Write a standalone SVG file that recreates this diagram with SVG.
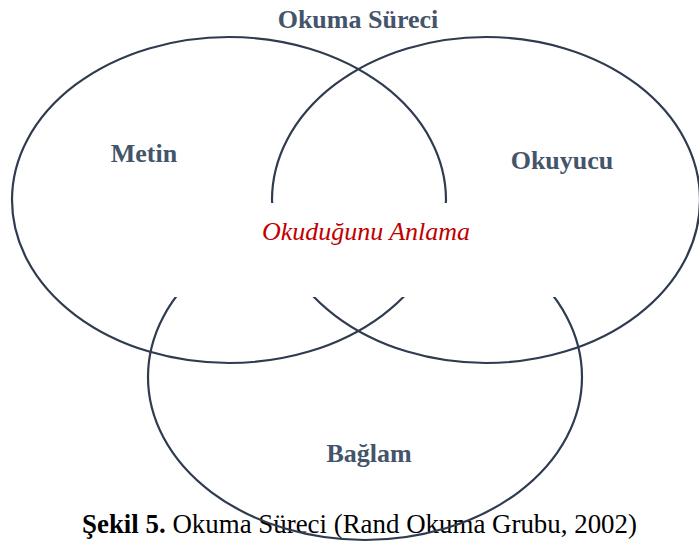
<svg xmlns="http://www.w3.org/2000/svg" width="699" height="543" viewBox="0 0 699 543">
  <style>
    .ring { fill: none; stroke: #2f3b4f; stroke-width: 2.2; }
    .label { font-family: "Liberation Serif", "Times New Roman", serif; font-weight: bold; font-size: 26px; fill: #44546a; text-anchor: middle; }
    .core { font-family: "Liberation Serif", "Times New Roman", serif; font-style: italic; font-size: 26px; fill: #c00000; text-anchor: middle; }
    .caption { font-family: "Liberation Serif", "Times New Roman", serif; font-size: 26.9px; fill: #000000; }
  </style>
  <rect width="699" height="543" fill="#ffffff"/>

  <!-- figure caption (rings are drawn over it) -->
  <text class="caption" x="82" y="533"><tspan font-weight="bold">Şekil 5.</tspan> Okuma Süreci (Rand Okuma Grubu, 2002)</text>

  <g id="connectors">
    <!-- the three overlapping sets -->
    <ellipse id="ring-metin" class="ring" cx="229" cy="200" rx="217" ry="163"/>
    <ellipse id="ring-okuyucu" class="ring" cx="486" cy="200" rx="214" ry="163"/>
    <ellipse id="ring-baglam" class="ring" cx="365" cy="377" rx="217" ry="163"/>
    <!-- blank band behind the central label -->
    <rect x="100" y="203" width="520" height="94" fill="#ffffff"/>
  </g>

  <g id="title"><text class="label" x="358" y="28">Okuma Süreci</text></g>
  <g id="metin"><text class="label" x="144" y="162">Metin</text></g>
  <g id="okuyucu"><text class="label" x="562" y="169">Okuyucu</text></g>
  <g id="baglam"><text class="label" x="369" y="462">Bağlam</text></g>
  <g id="anlama"><text class="core" x="366" y="240">Okuduğunu Anlama</text></g>
</svg>
